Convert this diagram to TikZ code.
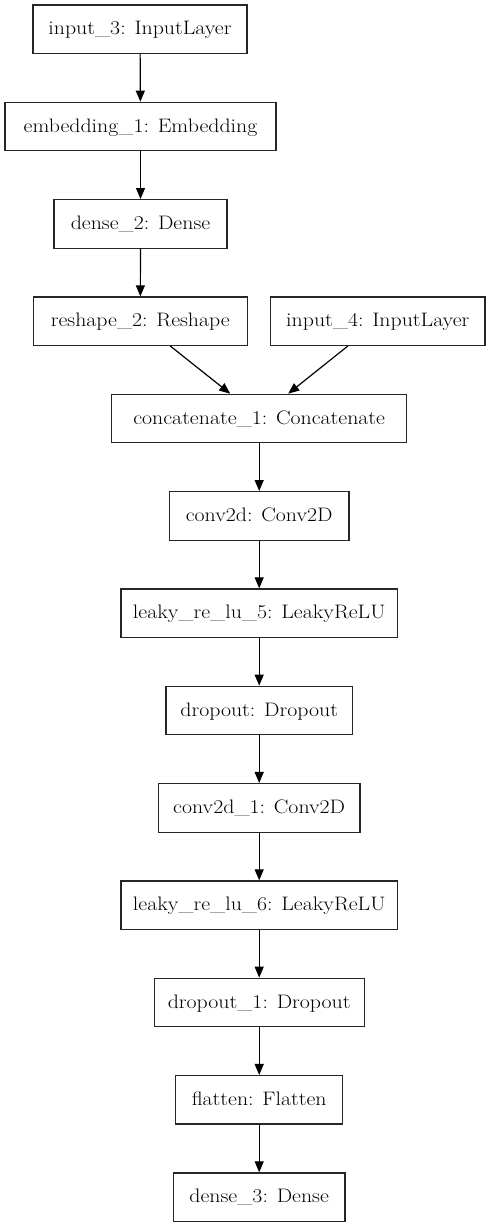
\documentclass[tikz,border=0pt]{standalone}
\usepackage{graphicx}
\usetikzlibrary{arrows.meta}
\newcommand{\lbl}[1]{\scalebox{1.12}[1]{#1}}
\tikzset{
  layer/.style={draw=black!85, line width=1.2pt, fill=white, rectangle, inner sep=0pt,
    minimum height=48.5pt, text height=13pt, text depth=1.5pt,
    font=\fontsize{19.5}{21}\selectfont},
  flow/.style={draw=black, line width=1.2pt, -{Triangle[length=11pt,width=9pt]}}
}
\begin{document}
\begin{tikzpicture}[x=1pt,y=-1pt]
\useasboundingbox (0,0) rectangle (490,1228);
\def\rowy#1{29.2+97.33*#1}
\node[layer, minimum width=214pt] (in3) at (140,{\rowy{0}}) {\lbl{input\_3: InputLayer}};
\node[layer, minimum width=271pt] (emb) at (140.5,{\rowy{1}}) {\lbl{embedding\_1: Embedding}};
\node[layer, minimum width=173pt] (d2) at (140.5,{\rowy{2}}) {\lbl{dense\_2: Dense}};
\node[layer, minimum width=214pt] (rs) at (140.3,{\rowy{3}}) {\lbl{reshape\_2: Reshape}};
\node[layer, minimum width=214.3pt] (in4) at (377.8,{\rowy{3}}) {\lbl{input\_4: InputLayer}};
\node[layer, minimum width=295pt] (cat) at (259.2,{\rowy{4}}) {\lbl{concatenate\_1: Concatenate}};
\node[layer, minimum width=179.4pt] (c1) at (259.2,{\rowy{5}}) {\lbl{conv2d: Conv2D}};
\node[layer, minimum width=276.6pt] (lr5) at (259.2,{\rowy{6}}) {\lbl{leaky\_re\_lu\_5: LeakyReLU}};
\node[layer, minimum width=186.6pt] (do) at (259.2,{\rowy{7}}) {\lbl{dropout: Dropout}};
\node[layer, minimum width=201.7pt] (c2) at (259.2,{\rowy{8}}) {\lbl{conv2d\_1: Conv2D}};
\node[layer, minimum width=276.6pt] (lr6) at (259.2,{\rowy{9}}) {\lbl{leaky\_re\_lu\_6: LeakyReLU}};
\node[layer, minimum width=210pt] (do1) at (259.2,{\rowy{10}}) {\lbl{dropout\_1: Dropout}};
\node[layer, minimum width=166.7pt] (fl) at (259.2,{\rowy{11}}) {\lbl{flatten: Flatten}};
\node[layer, minimum width=171.7pt] (d3) at (259.2,{\rowy{12}}) {\lbl{dense\_3: Dense}};
\draw[flow] (in3) -- (emb);
\draw[flow] (emb) -- (d2);
\draw[flow] (d2) -- (rs);
\draw[flow] ([xshift=30pt]rs.south) -- ([xshift=-29pt]cat.north);
\draw[flow] ([xshift=-30pt]in4.south) -- ([xshift=29pt]cat.north);
\draw[flow] (cat) -- (c1);
\draw[flow] (c1) -- (lr5);
\draw[flow] (lr5) -- (do);
\draw[flow] (do) -- (c2);
\draw[flow] (c2) -- (lr6);
\draw[flow] (lr6) -- (do1);
\draw[flow] (do1) -- (fl);
\draw[flow] (fl) -- (d3);
\end{tikzpicture}
\end{document}
